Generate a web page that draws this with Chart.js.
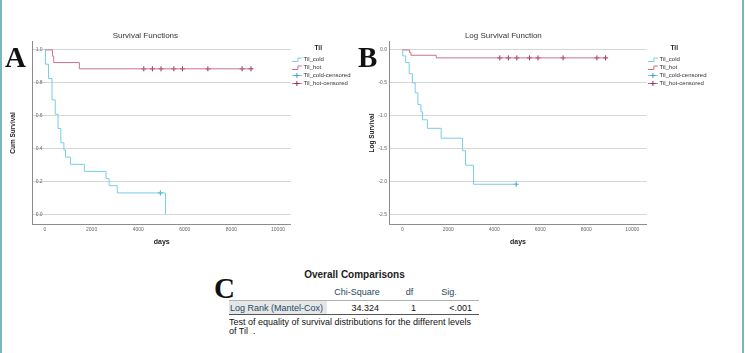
<!DOCTYPE html>
<html>
<head>
<meta charset="utf-8">
<script src="https://cdn.jsdelivr.net/npm/chart.js@4.4.0/dist/chart.umd.min.js"></script>
<style>
html,body{margin:0;padding:0;background:#fff;}
body{width:745px;height:353px;position:relative;overflow:hidden;font-family:"Liberation Sans",Arial,sans-serif;}
.abs{position:absolute;white-space:nowrap;}
canvas{position:absolute;}
.letter{position:absolute;font-family:"Liberation Serif","DejaVu Serif",serif;font-weight:bold;font-size:29px;line-height:29px;color:#111;}
.t{position:absolute;white-space:nowrap;font-size:9px;line-height:10px;color:#111;}
.hdr{color:#264a60;}
</style>
</head>
<body>
<div class="abs" style="left:0;top:0;width:2px;height:353px;background:#7fb2c2"></div>
<div class="abs" style="left:742px;top:0;width:2px;height:353px;background:#7fb2c2"></div>

<canvas id="chartA" width="389" height="260" style="left:0;top:0"></canvas>
<canvas id="chartB" width="381" height="260" style="left:360px;top:0"></canvas>

<div class="letter" style="left:5px;top:43px">A</div>
<div class="letter" style="left:358px;top:43px">B</div>
<div class="letter" style="left:214px;top:274px">C</div>

<!-- Overall Comparisons table -->
<div class="t" style="left:254px;top:269px;width:201px;text-align:center;font-weight:bold;font-size:10px;line-height:12px;color:#222">Overall Comparisons</div>
<div class="t hdr" style="left:327px;top:287px;width:60px;text-align:center">Chi-Square</div>
<div class="t hdr" style="left:394px;top:287px;width:31px;text-align:center">df</div>
<div class="t hdr" style="left:429px;top:287px;width:40px;text-align:center">Sig.</div>
<div class="abs" style="left:229px;top:300px;width:250px;height:1px;background:#b0b0b0"></div>
<div class="abs" style="left:229px;top:301px;width:98px;height:13px;background:#e4e6e8"></div>
<div class="t hdr" style="left:230px;top:302.5px">Log Rank (Mantel-Cox)</div>
<div class="t" style="left:330px;top:302.5px;width:49px;text-align:right">34.324</div>
<div class="t" style="left:390px;top:302.5px;width:26px;text-align:right">1</div>
<div class="t" style="left:430px;top:302.5px;width:42px;text-align:right">&lt;.001</div>
<div class="abs" style="left:229px;top:314px;width:250px;height:1px;background:#555"></div>
<div class="t" style="left:229px;top:316.7px">Test of equality of survival distributions for the different levels</div>
<div class="t" style="left:229px;top:325.7px">of Til&nbsp;&nbsp;.</div>

<script>
// ---- data ----
const xTickValues = [0, 2000, 4000, 6000, 8000, 10000];
const survivalTicks = [0, 0.2, 0.4, 0.6, 0.8, 1.0];
const logSurvivalTicks = [0, -0.5, -1.0, -1.5, -2.0, -2.5];

const coldDays = [0, 20, 150, 300, 440, 560, 680, 810, 880, 1090, 1690, 2620, 2750, 3100, 5170];
const coldSurvival = [1.0, 0.913, 0.826, 0.696, 0.609, 0.522, 0.435, 0.391, 0.348, 0.304, 0.261, 0.217, 0.174, 0.130, 0.0];
const coldLogDays = [0, 20, 150, 300, 440, 560, 680, 810, 880, 1090, 1690, 2620, 2750, 3100, 4950];
const coldLogSurvival = [0, -0.09, -0.19, -0.36, -0.50, -0.65, -0.83, -0.94, -1.06, -1.19, -1.34, -1.53, -1.75, -2.04, -2.04];

const hotDays = [0, 320, 375, 1475, 8840];
const hotSurvival = [1.0, 0.962, 0.923, 0.885, 0.885];
const hotLogSurvival = [0, -0.04, -0.08, -0.12, -0.12];

const coldCensorDays = [4950];
const coldCensorSurvival = [0.130];
const coldCensorLogSurvival = [-2.04];

const hotCensorDays = [4240, 4610, 4980, 5530, 5900, 6990, 8460, 8840];
const hotCensorSurvival = [0.885, 0.885, 0.885, 0.885, 0.885, 0.885, 0.885, 0.885];
const hotCensorLogSurvival = [-0.12, -0.12, -0.12, -0.12, -0.12, -0.12, -0.12, -0.12];

const seriesLabels = ['Til_cold', 'Til_hot', 'Til_cold-censored', 'Til_hot-censored'];
const legendTitle = 'Til';

// ---- styling ----
const FONT = '"Liberation Sans", Arial, sans-serif';
const COLD = '#78cde8';
const HOT = '#c7738f';
const COLD_C = '#3a9fd4';
const HOT_C = '#9e2a52';
const GRID = '#d6d6d6';
const AXIS = '#8c8c8c';

function pts(xs, ys) { return xs.map((x, i) => ({ x: x, y: ys[i] })); }

const kmLegend = {
  id: 'kmLegend',
  afterDraw(chart, args, opts) {
    const ctx = chart.ctx, ca = chart.chartArea;
    const x0 = ca.right + 1.2;
    ctx.save();
    ctx.textBaseline = 'middle';
    ctx.fillStyle = '#222';
    ctx.font = 'bold 6.5px ' + FONT;
    ctx.textAlign = 'center';
    ctx.fillText(legendTitle, ca.right + 27.5, ca.top + 6.5);
    ctx.font = '6px ' + FONT;
    ctx.textAlign = 'left';
    chart.data.datasets.forEach((ds, i) => {
      const y = Math.round(ca.top + 17.6 + i * 7.8) + 0.5;
      ctx.lineWidth = 1;
      ctx.strokeStyle = ds.iconColor;
      ctx.beginPath();
      if (ds.legendIcon === 'step') {
        ctx.moveTo(x0, y + 2);
        ctx.lineTo(x0 + 6, y + 2);
        ctx.lineTo(x0 + 6, y - 1.5);
        ctx.lineTo(x0 + 10, y - 1.5);
        ctx.stroke();
      } else {
        ctx.moveTo(x0, y);
        ctx.lineTo(x0 + 10, y);
        ctx.stroke();
        ctx.strokeStyle = ds.borderColor;
        ctx.beginPath();
        ctx.moveTo(x0 + 5, y - 2.5);
        ctx.lineTo(x0 + 5, y + 2.5);
        ctx.moveTo(x0 + 2.5, y);
        ctx.lineTo(x0 + 7.5, y);
        ctx.stroke();
      }
      ctx.fillStyle = '#333';
      ctx.fillText(ds.label, x0 + 11.5, y);
    });
    ctx.restore();
  }
};

function makeChart(id, cfg) {
  return new Chart(document.getElementById(id), {
    type: 'line',
    data: {
      datasets: [
        { label: seriesLabels[0], data: pts(cfg.coldX, cfg.coldY), borderColor: COLD, iconColor: COLD, borderWidth: 1,
          stepped: 'before', pointRadius: 0, fill: false, legendIcon: 'step' },
        { label: seriesLabels[1], data: pts(hotDays, cfg.hotY), borderColor: HOT, iconColor: HOT, borderWidth: 1,
          stepped: 'before', pointRadius: 0, fill: false, legendIcon: 'step' },
        { label: seriesLabels[2], data: pts(coldCensorDays, cfg.coldCY), showLine: false, pointStyle: 'cross',
          pointRadius: 2.5, borderColor: COLD_C, backgroundColor: COLD_C, iconColor: COLD, pointBorderWidth: 1, legendIcon: 'cross' },
        { label: seriesLabels[3], data: pts(hotCensorDays, cfg.hotCY), showLine: false, pointStyle: 'cross',
          pointRadius: 2.5, borderColor: HOT_C, backgroundColor: HOT_C, iconColor: HOT, pointBorderWidth: 1, legendIcon: 'cross' }
      ]
    },
    options: {
      responsive: false,
      animation: false,
      devicePixelRatio: 1,
      layout: { padding: { left: 0, right: cfg.padRight, top: 0, bottom: 0 } },
      plugins: {
        legend: { display: false },
        tooltip: { enabled: false },
        title: { display: true, text: cfg.title, color: '#333', font: { family: FONT, size: 8, weight: 'normal' },
                 padding: { top: 30.9, bottom: 1.2 } }
      },
      scales: {
        x: {
          type: 'linear', min: cfg.xMin, max: cfg.xMax,
          afterBuildTicks: s => { s.ticks = xTickValues.map(v => ({ value: v })); },
          afterFit: s => { s.height = 35.7; },
          grid: { display: false, drawTicks: false },
          border: { display: true, color: AXIS, width: 1 },
          ticks: { font: { family: FONT, size: 5 }, color: '#666', padding: 2, maxRotation: 0, autoSkip: false,
                   callback: v => String(v) },
          title: { display: true, text: 'days', color: '#222', font: { family: FONT, size: 7, weight: 'bold' },
                   padding: { top: 0, bottom: 13.8 } }
        },
        y: {
          type: 'linear', min: cfg.yMin, max: cfg.yMax,
          afterBuildTicks: s => { s.ticks = cfg.yTicks.map(v => ({ value: v })); },
          afterFit: s => { s.width = cfg.yWidth; },
          grid: { color: GRID, lineWidth: 1, drawTicks: false },
          border: { display: true, color: AXIS, width: 1 },
          ticks: { font: { family: FONT, size: 5 }, color: '#666', mirror: cfg.mirror, padding: cfg.tickPad,
                   callback: v => v.toFixed(1) },
          title: { display: true, text: cfg.yTitle, color: '#222', font: { family: FONT, size: 6.5, weight: 'bold' },
                   padding: { top: cfg.yTitlePad, bottom: 0 } }
        }
      }
    },
    plugins: [kmLegend]
  });
}

makeChart('chartA', {
  title: 'Survival Functions', yTitle: 'Cum Survival',
  coldX: coldDays, coldY: coldSurvival, hotY: hotSurvival,
  coldCY: coldCensorSurvival, hotCY: hotCensorSurvival,
  xMin: -528, xMax: 10545, yMin: -0.061, yMax: 1.05, yTicks: survivalTicks,
  yWidth: 32.7, padRight: 98.3, mirror: true, tickPad: 3, yTitlePad: 9.4
});

makeChart('chartB', {
  title: 'Log Survival Function', yTitle: 'Log Survival',
  coldX: coldLogDays, coldY: coldLogSurvival, hotY: hotLogSurvival,
  coldCY: coldCensorLogSurvival, hotCY: hotCensorLogSurvival,
  xMin: -565, xMax: 10626, yMin: -2.648, yMax: 0.126, yTicks: logSurvivalTicks,
  yWidth: 29.3, padRight: 94.3, mirror: false, tickPad: 2.3, yTitlePad: 8.1
});
</script>
</body>
</html>
